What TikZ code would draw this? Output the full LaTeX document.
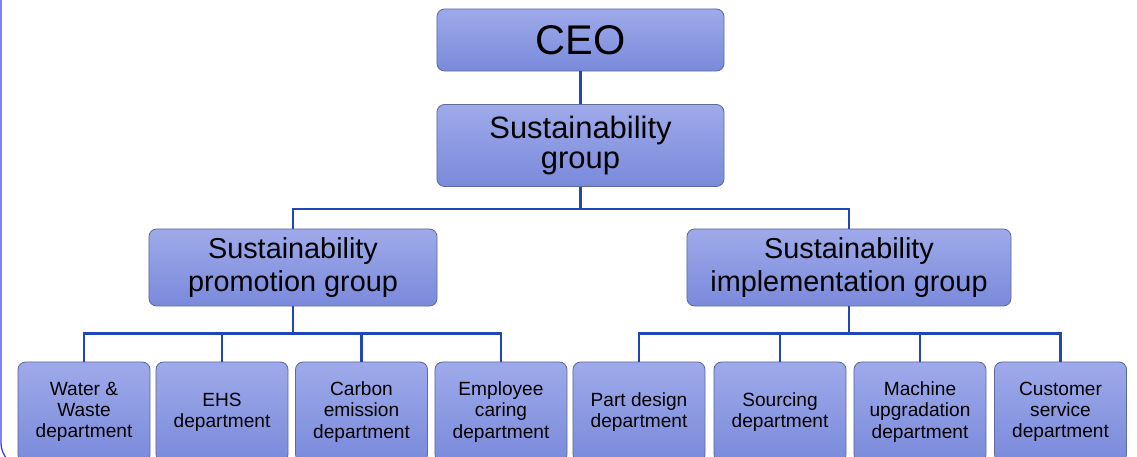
\documentclass[tikz,border=0pt]{standalone}
\usepackage{fontspec}
\setmainfont{Liberation Sans}
\definecolor{boxtop}{HTML}{9EAAEA}
\definecolor{boxbottom}{HTML}{7A8ADB}
\definecolor{boxedge}{HTML}{5F6A98}
\definecolor{linkblue}{HTML}{1F47B8}
\definecolor{frameblue}{HTML}{3A3AF2}

\begin{document}
\begin{tikzpicture}[
  x=0.025cm,
  y=-0.025cm,
  unit/.style={draw=boxedge, line width=0.6pt, rounded corners=5.5pt,
    top color=boxtop, bottom color=boxbottom, align=center,
    inner sep=2pt, text=black},
  ceobox/.style={unit, minimum width=7.175cm, minimum height=1.55cm,
    font=\fontsize{29.5}{34}\selectfont},
  groupbox/.style={unit, minimum width=7.175cm, minimum height=2.05cm,
    font=\fontsize{22}{21.5}\selectfont},
  subbox/.style={unit, minimum height=1.925cm,
    font=\fontsize{20.5}{23}\selectfont},
  deptbox/.style={unit, minimum width=3.3cm, minimum height=2.5cm,
    font=\fontsize{13.6}{15}\selectfont},
  link/.style={linkblue, line width=2pt},
  frame/.style={frameblue, line width=0.9pt, rounded corners=0.6cm}
]
  \useasboundingbox (0,0) rectangle (1137,457);
  \clip (0,0) rectangle (1137,457);

  %% ---- slide frame --------------------------------------------------
  \draw[frame] (1,-40) -- (1,467) -- (1300,467);

  %% ---- top levels ---------------------------------------------------
  \node[ceobox] (ceo) at (580.5,40) {CEO};
  \node[groupbox] (sg) at (580.5,145.5) {Sustainability\\group};

  %% ---- groups -------------------------------------------------------
  \node[subbox, minimum width=7.2cm] (prom) at (293,267.5)
    {Sustainability\\promotion group};
  \node[subbox, minimum width=8.1cm] (impl) at (849,267.5)
    {Sustainability\\implementation group};

  %% ---- departments --------------------------------------------------
  \node[deptbox] (water) at (84,412) {Water \&\\Waste\\department};
  \node[deptbox] (ehs) at (222,412) {EHS\\department};
  \node[deptbox] (carbon) at (361.5,412) {Carbon\\emission\\department};
  \node[deptbox] (employee) at (501,412) {Employee\\caring\\department};

  \node[deptbox] (part) at (639,412) {Part design\\department};
  \node[deptbox] (sourcing) at (780,412) {Sourcing\\department};
  \node[deptbox] (machine) at (920,412) {Machine\\upgradation\\department};
  \node[deptbox] (customer) at (1060.5,412) {Customer\\service\\department};

  %% ---- connectors ---------------------------------------------------
  \draw[link] (ceo.south) -- (sg.north);
  \draw[link] (sg.south) -- ++(0,22) -| (prom.north);
  \draw[link] (sg.south) -- ++(0,22) -| (impl.north);
  \foreach \d in {water, ehs, carbon, employee}
    \draw[link] (prom.south) -- ++(0,27) -| (\d.north);
  \foreach \d in {part, sourcing, machine, customer}
    \draw[link] (impl.south) -- ++(0,27) -| (\d.north);

\end{tikzpicture}
\end{document}
